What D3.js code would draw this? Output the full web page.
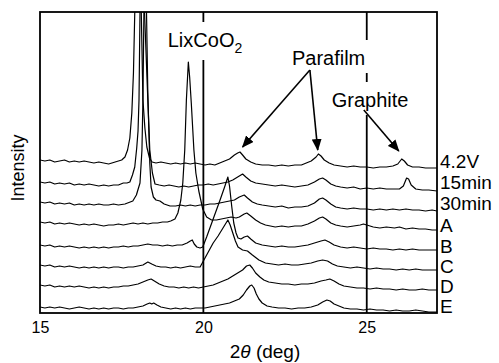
<!DOCTYPE html>
<html>
<head>
<meta charset="utf-8">
<script src="https://cdn.jsdelivr.net/npm/d3@7/dist/d3.min.js"></script>
<style>
  html, body { margin: 0; padding: 0; background: #fff; }
  svg { display: block; font-family: "Liberation Sans", Arial, Helvetica, sans-serif; }
</style>
</head>
<body>
<div id="chart"></div>
<script>
// XRD patterns, 2theta (deg) vs intensity (arb.), already stacked
const seriesNames = ['4.2V', '15min', '30min', 'A', 'B', 'C', 'D', 'E'];
const xTicks = [15, 20, 25];
const refLines = [20, 25];

const trace42V = [[15.0,153],[15.15,152],[15.3,153],[15.45,151],[15.6,152],[15.75,153],[15.9,151],[16.05,152],[16.2,151],[16.35,152],[16.5,151],[16.65,150],[16.8,151],[16.95,150],[17.1,149],[17.2,150],[17.3,151],[17.4,152],[17.5,153],[17.6,156],[17.68,163],[17.75,175],[17.81,200],[17.86,240],[17.9,300],[17.96,380],[18.0,420],[18.05,370],[18.1,300],[18.15,213],[18.21,185],[18.27,166],[18.35,155],[18.43,151],[18.55,150],[18.7,151],[18.85,150],[19.0,149],[19.15,150],[19.3,149],[19.45,150],[19.6,149],[19.75,150],[19.9,149],[20.05,148],[20.2,149],[20.35,148],[20.5,150],[20.65,152],[20.8,154],[20.95,158],[21.05,160],[21.12,161],[21.2,158],[21.3,154],[21.45,151],[21.6,149],[21.8,148],[22.0,148],[22.2,147],[22.4,148],[22.6,147],[22.8,148],[23.0,148],[23.15,150],[23.3,152],[23.45,156],[23.52,159],[23.6,157],[23.7,153],[23.85,150],[24.0,148],[24.2,147],[24.4,146],[24.6,147],[24.8,146],[25.0,146],[25.2,145],[25.4,146],[25.6,146],[25.8,147],[25.95,149],[26.07,154],[26.15,152],[26.25,148],[26.4,146],[26.6,146],[26.8,145],[27.0,145],[27.15,145]];

const trace15min = [[15.0,131],[15.15,130],[15.3,131],[15.45,129],[15.6,130],[15.75,129],[15.9,130],[16.05,128],[16.2,129],[16.35,128],[16.5,129],[16.65,128],[16.8,127],[16.95,128],[17.1,127],[17.25,128],[17.4,128],[17.55,130],[17.66,130],[17.75,131],[17.83,138],[17.9,146],[17.96,165],[18.0,182],[18.03,213],[18.06,300],[18.1,400],[18.15,350],[18.2,300],[18.3,213],[18.36,163],[18.44,140],[18.52,129],[18.65,128],[18.8,127],[18.95,128],[19.1,127],[19.25,126],[19.4,127],[19.55,126],[19.7,127],[19.85,128],[20.0,128],[20.15,129],[20.3,128],[20.45,129],[20.6,130],[20.75,131],[20.9,133],[21.05,136],[21.2,139],[21.3,136],[21.45,132],[21.6,130],[21.8,129],[22.0,128],[22.2,127],[22.4,128],[22.6,127],[22.8,126],[23.0,127],[23.2,128],[23.4,131],[23.55,134],[23.65,135],[23.75,133],[23.9,129],[24.05,127],[24.2,126],[24.4,125],[24.6,126],[24.8,124],[25.0,125],[25.2,124],[25.4,125],[25.6,124],[25.8,124],[26.0,124],[26.12,127],[26.22,135],[26.28,134],[26.36,128],[26.5,124],[26.7,123],[26.9,123],[27.15,122]];

const trace30min = [[15.0,111],[15.15,110],[15.3,111],[15.45,109],[15.6,110],[15.75,109],[15.9,110],[16.05,108],[16.2,109],[16.35,108],[16.5,109],[16.65,108],[16.8,109],[16.95,108],[17.1,108],[17.25,109],[17.4,108],[17.6,109],[17.84,112],[17.95,118],[18.06,130],[18.12,163],[18.15,213],[18.18,300],[18.22,400],[18.26,300],[18.3,220],[18.36,150],[18.4,126],[18.47,116],[18.55,113],[18.67,112],[18.8,109],[18.98,107],[19.15,107],[19.3,108],[19.45,107],[19.6,108],[19.75,107],[19.9,108],[20.05,108],[20.2,109],[20.35,109],[20.5,110],[20.65,111],[20.8,112],[20.95,113],[21.1,116],[21.25,118],[21.35,115],[21.5,111],[21.65,109],[21.8,108],[22.0,107],[22.2,106],[22.4,107],[22.6,105],[22.8,106],[23.0,106],[23.2,107],[23.4,110],[23.55,114],[23.65,115],[23.75,113],[23.9,109],[24.05,106],[24.2,105],[24.4,104],[24.6,105],[24.8,104],[25.0,104],[25.2,103],[25.4,104],[25.6,103],[25.8,104],[26.0,103],[26.2,104],[26.4,103],[26.6,103],[26.8,102],[27.0,103],[27.15,102]];

const traceA = [[15.0,91],[15.15,90],[15.3,91],[15.45,89],[15.6,90],[15.75,89],[15.9,90],[16.05,89],[16.2,88],[16.35,89],[16.5,88],[16.65,89],[16.8,88],[16.95,87],[17.1,88],[17.25,88],[17.4,89],[17.55,88],[17.7,89],[17.85,90],[18.0,89],[18.15,90],[18.3,89],[18.45,90],[18.6,90],[18.75,91],[18.9,91],[19.0,92],[19.13,94],[19.22,100],[19.31,113],[19.37,130],[19.43,163],[19.48,213],[19.54,251],[19.58,236],[19.63,210],[19.71,163],[19.77,140],[19.86,122],[19.98,104],[20.1,96],[20.25,93],[20.4,93],[20.55,94],[20.7,95],[20.85,96],[21.0,95],[21.1,96],[21.25,99],[21.33,100],[21.45,97],[21.6,93],[21.75,90],[21.9,88],[22.05,87],[22.2,86],[22.4,87],[22.6,86],[22.8,87],[23.0,87],[23.2,89],[23.4,92],[23.55,95],[23.65,96],[23.75,94],[23.9,90],[24.05,88],[24.2,87],[24.4,86],[24.6,87],[24.8,88],[24.9,89],[25.0,88],[25.2,86],[25.4,85],[25.6,86],[25.85,85],[26.0,86],[26.2,84],[26.4,85],[26.6,84],[26.8,84],[27.0,83],[27.15,83]];

const traceB = [[15.0,68],[15.15,67],[15.3,68],[15.45,66],[15.6,67],[15.75,66],[15.9,67],[16.05,66],[16.2,65],[16.35,66],[16.5,65],[16.65,66],[16.8,65],[16.95,66],[17.1,65],[17.25,66],[17.4,66],[17.55,67],[17.7,66],[17.85,67],[18.0,67],[18.15,68],[18.3,69],[18.45,68],[18.6,68],[18.75,67],[18.9,68],[19.05,67],[19.2,68],[19.35,68],[19.5,70],[19.6,72],[19.66,73],[19.72,69],[19.8,66],[19.9,65],[19.98,66],[20.1,76],[20.3,94],[20.5,112],[20.65,126],[20.75,136],[20.8,127],[20.87,106],[20.93,90],[21.0,80],[21.06,75],[21.15,74],[21.25,76],[21.35,77],[21.45,74],[21.6,70],[21.8,68],[22.0,67],[22.2,66],[22.4,67],[22.6,66],[22.8,66],[23.0,67],[23.2,68],[23.4,70],[23.6,72],[23.72,73],[23.85,71],[24.0,68],[24.2,66],[24.4,65],[24.6,66],[24.8,65],[25.0,64],[25.2,65],[25.4,64],[25.6,64],[25.8,63],[26.0,64],[26.2,63],[26.4,64],[26.6,63],[26.8,63],[27.0,63],[27.15,63]];

const traceC = [[15.0,48],[15.15,47],[15.3,48],[15.45,46],[15.6,47],[15.75,46],[15.9,47],[16.05,46],[16.2,45],[16.35,46],[16.5,45],[16.65,46],[16.8,45],[16.95,46],[17.1,45],[17.25,46],[17.4,46],[17.55,45],[17.7,46],[17.85,46],[18.0,47],[18.15,48],[18.3,51],[18.42,49],[18.55,47],[18.7,46],[18.85,46],[19.0,45],[19.15,46],[19.3,45],[19.45,46],[19.6,47],[19.75,46],[19.9,46],[20.05,55],[20.2,64],[20.3,70],[20.45,77],[20.6,85],[20.75,93],[20.82,88],[20.9,80],[20.98,72],[21.06,66],[21.2,63],[21.35,62],[21.5,58],[21.7,53],[21.9,50],[22.1,49],[22.3,48],[22.5,49],[22.7,48],[22.9,48],[23.1,49],[23.3,50],[23.5,52],[23.65,53],[23.8,52],[23.95,49],[24.1,47],[24.3,46],[24.5,45],[24.7,46],[24.9,45],[25.1,44],[25.3,45],[25.5,44],[25.7,44],[25.9,43],[26.1,44],[26.3,43],[26.5,44],[26.7,43],[26.9,43],[27.15,43]];

const traceD = [[15.0,28],[15.15,27],[15.3,28],[15.45,26],[15.6,27],[15.75,26],[15.9,27],[16.05,26],[16.2,27],[16.35,26],[16.5,25],[16.65,26],[16.8,25],[16.95,26],[17.1,25],[17.25,26],[17.4,26],[17.55,27],[17.7,27],[17.85,28],[18.0,29],[18.15,31],[18.3,33],[18.4,34],[18.5,32],[18.65,29],[18.8,27],[18.95,26],[19.1,26],[19.25,25],[19.4,26],[19.55,25],[19.7,26],[19.85,25],[20.0,26],[20.15,27],[20.3,28],[20.45,30],[20.6,32],[20.75,34],[20.9,37],[21.05,40],[21.2,43],[21.32,47],[21.42,48],[21.5,45],[21.6,40],[21.73,36],[21.85,33],[22.0,31],[22.2,30],[22.4,29],[22.6,29],[22.8,28],[23.0,29],[23.2,29],[23.4,30],[23.6,32],[23.75,33],[23.87,34],[24.0,32],[24.15,29],[24.3,27],[24.5,26],[24.7,25],[24.9,25],[25.1,24],[25.3,25],[25.5,24],[25.7,24],[25.9,23],[26.1,24],[26.3,23],[26.5,23],[26.7,24],[26.9,23],[27.15,23]];

const traceE = [[15.0,6],[15.15,5],[15.3,6],[15.45,5],[15.6,6],[15.75,5],[15.9,4],[16.05,5],[16.2,6],[16.35,5],[16.5,4],[16.65,5],[16.8,4],[16.95,5],[17.1,4],[17.25,5],[17.4,5],[17.55,4],[17.7,5],[17.85,5],[18.0,6],[18.15,7],[18.28,9],[18.36,10],[18.42,9],[18.48,10],[18.58,8],[18.7,6],[18.85,5],[19.0,4],[19.15,5],[19.3,4],[19.45,5],[19.6,4],[19.75,5],[19.9,5],[20.05,5],[20.2,6],[20.35,7],[20.5,8],[20.65,9],[20.8,10],[20.95,12],[21.1,14],[21.22,18],[21.32,23],[21.42,27],[21.48,28],[21.55,25],[21.62,19],[21.7,14],[21.8,10],[21.95,7],[22.1,6],[22.3,5],[22.5,5],[22.7,4],[22.9,5],[23.1,5],[23.3,6],[23.5,8],[23.65,11],[23.78,13],[23.88,12],[24.0,9],[24.15,7],[24.3,5],[24.5,4],[24.7,4],[24.9,3],[25.1,4],[25.3,3],[25.5,3],[25.7,2],[25.9,3],[26.1,2],[26.3,2],[26.5,3],[26.7,2],[26.9,1],[27.15,1]];

const traces = [trace42V, trace15min, trace30min, traceA, traceB, traceC, traceD, traceE];
// intensity level at which each right-hand label sits
const labelLevels = [145, 124, 103, 81, 60, 40, 20, 0];

const width = 499, height = 363;
const margin = { top: 12, right: 62, bottom: 50, left: 40 };

const x = d3.scaleLinear().domain([15, 27.15]).range([margin.left, width - margin.right]);
const y = d3.scaleLinear().domain([0, 301]).range([height - margin.bottom, margin.top]);

const svg = d3.select('#chart').append('svg')
  .attr('width', width)
  .attr('height', height);

svg.append('defs').append('clipPath')
  .attr('id', 'plot-clip')
  .append('rect')
  .attr('x', x.range()[0])
  .attr('y', y.range()[1])
  .attr('width', x.range()[1] - x.range()[0])
  .attr('height', y.range()[0] - y.range()[1]);

svg.select('defs').append('marker')
  .attr('id', 'arrowhead')
  .attr('markerUnits', 'userSpaceOnUse')
  .attr('markerWidth', 12)
  .attr('markerHeight', 10)
  .attr('refX', 11)
  .attr('refY', 5)
  .attr('orient', 'auto')
  .append('path')
  .attr('d', 'M0,0 L12,5 L0,10 Z')
  .style('fill', '#000');

// reference lines at 20 and 25 deg
svg.selectAll('line.ref')
  .data(refLines)
  .enter()
  .append('line')
  .attr('class', 'ref')
  .attr('x1', d => x(d))
  .attr('x2', d => x(d))
  .attr('y1', y.range()[0])
  .attr('y2', y.range()[1])
  .style('stroke', '#000')
  .style('stroke-width', 1.8);

const line = d3.line()
  .x(d => x(d[0]))
  .y(d => y(d[1]));

svg.append('g')
  .attr('clip-path', 'url(#plot-clip)')
  .selectAll('path')
  .data(traces)
  .enter()
  .append('path')
  .attr('d', line)
  .style('fill', 'none')
  .style('stroke', '#000')
  .style('stroke-width', 1.2)
  .style('stroke-linejoin', 'round');

// annotations with a white box behind them (they break the ref lines)
const annotations = [
  { text: 'LixCoO', sub: '2', x: 18.91, y: 266 },
  { text: 'Parafilm', x: 22.71, y: 248 },
  { text: 'Graphite', x: 23.93, y: 206 }
];

const annG = svg.append('g');
annotations.forEach(a => {
  const box = annG.append('rect').style('fill', '#fff');
  const t = annG.append('text')
    .attr('x', x(a.x))
    .attr('y', y(a.y))
    .style('font-size', '20px')
    .text(a.text);
  if (a.sub) {
    t.append('tspan')
      .attr('dy', 6)
      .style('font-size', '14px')
      .text(a.sub);
  }
  const b = t.node().getBBox();
  box.attr('x', b.x - 4)
    .attr('y', b.y - 7)
    .attr('width', b.width + 8)
    .attr('height', b.height + 11);
});

const arrows = [
  { from: [23.26, 243], to: [21.2, 166] },
  { from: [23.26, 243], to: [23.5, 163] },
  { from: [24.91, 203], to: [25.98, 162] }
];

svg.selectAll('line.arrow')
  .data(arrows)
  .enter()
  .append('line')
  .attr('class', 'arrow')
  .attr('x1', d => x(d.from[0]))
  .attr('y1', d => y(d.from[1]))
  .attr('x2', d => x(d.to[0]))
  .attr('y2', d => y(d.to[1]))
  .attr('marker-end', 'url(#arrowhead)')
  .style('stroke', '#000')
  .style('stroke-width', 1.6);

// frame
svg.append('rect')
  .attr('x', x.range()[0])
  .attr('y', y.range()[1])
  .attr('width', x.range()[1] - x.range()[0])
  .attr('height', y.range()[0] - y.range()[1])
  .style('fill', 'none')
  .style('stroke', '#000')
  .style('stroke-width', 1.8);

// x axis labels
const xAxis = svg.append('g')
  .attr('transform', `translate(0,${y.range()[0]})`)
  .call(d3.axisBottom(x).tickValues(xTicks).tickSize(0).tickPadding(9).tickFormat(d3.format('d')));
xAxis.select('.domain').remove();
xAxis.selectAll('text')
  .style('font-size', '16px')
  .style('font-family', '"Liberation Sans", Arial, sans-serif')
  .style('fill', '#000');

const xTitle = svg.append('text')
  .attr('x', 265)
  .attr('y', 358)
  .attr('text-anchor', 'middle')
  .style('font-size', '19px');
xTitle.append('tspan').text('2');
xTitle.append('tspan').style('font-style', 'italic').text('θ');
xTitle.append('tspan').text(' (deg)');

svg.append('text')
  .attr('transform', `translate(24,168) rotate(-90)`)
  .attr('text-anchor', 'middle')
  .style('font-size', '18px')
  .text('Intensity');

// series labels on the right
svg.selectAll('text.series')
  .data(seriesNames)
  .enter()
  .append('text')
  .attr('class', 'series')
  .attr('x', x.range()[1] + 3)
  .attr('y', (d, i) => y(labelLevels[i]))
  .style('font-size', '19px')
  .text(d => d);
</script>
</body>
</html>
